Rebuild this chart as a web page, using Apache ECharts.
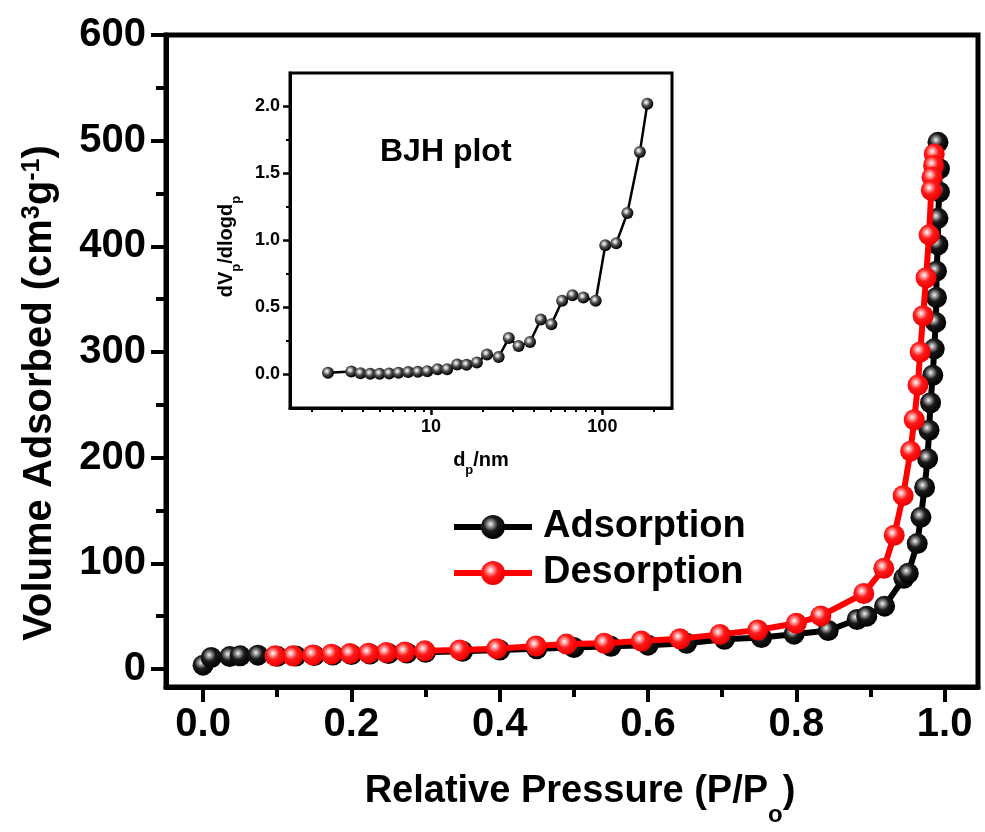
<!DOCTYPE html>
<html>
<head>
<meta charset="utf-8">
<script src="https://cdn.jsdelivr.net/npm/echarts@6.0.0/dist/echarts.min.js"></script>
<style>
  html, body { margin: 0; padding: 0; background: #fff; }
  #main { width: 985px; height: 832px; }
</style>
</head>
<body>
<div id="main"></div>
<script>
// isotherm, adsorption branch (P/Po, cm3/g)
const adsP = [0.0, 0.011, 0.036, 0.05, 0.074, 0.1, 0.125, 0.15, 0.175, 0.2, 0.225, 0.25, 0.275, 0.3,
  0.35, 0.4, 0.45, 0.5, 0.55, 0.6, 0.652, 0.703, 0.753, 0.797, 0.843, 0.882, 0.895, 0.919, 0.945,
  0.951, 0.963, 0.968, 0.973, 0.977, 0.979, 0.981, 0.984, 0.986, 0.988, 0.989, 0.989, 0.991, 0.991,
  0.993, 0.993, 0.991];
const adsV = [3.7, 10.9, 11.8, 12.5, 13.1, 12.0, 12.3, 12.8, 13.3, 13.8, 14.2, 14.7, 15.2, 15.8,
  16.8, 17.9, 19.2, 20.4, 21.5, 22.6, 24.4, 28.1, 29.8, 33.0, 36.5, 46.9, 50.0, 59.5, 85.9,
  90.6, 118.7, 143.7, 171.8, 199, 226, 252, 278, 303, 328, 351.6, 376.5, 401.5, 426.5,
  451.5, 473.4, 498.4];
// desorption branch, measured from high to low pressure
const desP = [0.986, 0.985, 0.983, 0.982, 0.979, 0.975, 0.971, 0.967, 0.964, 0.959, 0.954, 0.944,
  0.932, 0.918, 0.891, 0.833, 0.80, 0.748, 0.697, 0.643, 0.591, 0.541, 0.49, 0.449, 0.396, 0.346,
  0.299, 0.272, 0.247, 0.223, 0.198, 0.173, 0.148, 0.121, 0.097];
const desV = [487.5, 476.5, 465.5, 453.1, 410.9, 370.3, 334.3, 300.0, 268.7, 235.9, 206.2, 164.1,
  126.6, 95.3, 71.5, 50.3, 43.3, 37.0, 32.8, 28.7, 26.5, 24.4, 23.6, 21.8, 19.3, 18.1,
  17.2, 16.2, 15.6, 15.0, 14.6, 14.1, 13.4, 12.5, 12.5];

// BJH pore size distribution (dp in nm, dVp/dlogdp)
const bjhD = [2.50, 3.42, 3.87, 4.41, 5.0, 5.69, 6.45, 7.35, 8.37, 9.5, 10.9, 12.4, 14.2, 16.1,
  18.5, 21.2, 24.8, 28.4, 32.4, 37.8, 43.7, 50.4, 58.2, 66.9, 77.5, 91.4, 104, 120.5, 140, 165.5, 183];
const bjhV = [0.013, 0.022, 0.01, 0.005, 0.005, 0.008, 0.013, 0.018, 0.02, 0.025, 0.04, 0.04, 0.075,
  0.072, 0.09, 0.15, 0.13, 0.272, 0.212, 0.242, 0.41, 0.375, 0.55, 0.592, 0.575, 0.55, 0.965, 0.98,
  1.205, 1.66, 2.02];

// ticks
const xTicks = [0, 0.2, 0.4, 0.6, 0.8, 1.0];
const xMinor = [0.1, 0.3, 0.5, 0.7, 0.9];
const yTicks = [0, 100, 200, 300, 400, 500, 600];
const yMinor = [50, 150, 250, 350, 450, 550];
const inXTicks = [10, 100];
const inXMinor = [2, 3, 4, 5, 6, 7, 8, 9, 20, 30, 40, 50, 60, 70, 80, 90, 200];
const inYTicks = [0, 0.5, 1.0, 1.5, 2.0];
const inYMinor = [0.25, 0.75, 1.25, 1.75];

const FONT = 'Liberation Sans, Arial, Helvetica, sans-serif';
const lg = Math.log10;

function ball(c0, c1, c2, c3) {
  return {
    type: 'radial', x: 0.4, y: 0.38, r: 0.6,
    colorStops: [
      { offset: 0, color: c0 }, { offset: 0.2, color: c1 },
      { offset: 0.5, color: c2 }, { offset: 1, color: c3 }
    ]
  };
}

function richSet(big, small, subPad) {
  return {
    b: { fontSize: big, fontWeight: 'bold', fontFamily: FONT, color: '#000', lineHeight: big + 6, verticalAlign: 'top' },
    sup: { fontSize: small, fontWeight: 'bold', fontFamily: FONT, color: '#000', lineHeight: small, verticalAlign: 'top' },
    sub: { fontSize: small, fontWeight: 'bold', fontFamily: FONT, color: '#000', lineHeight: small, verticalAlign: 'top', padding: [subPad, 0, 0, 0] }
  };
}
const richX = richSet(38, 24, 30);
const richY = richSet(40, 25, 30);
const richS = richSet(20, 13, 14);

function minorAxis(grid, pos, min, max, vals, len, w) {
  return {
    type: 'value', gridIndex: grid, position: pos, min: min, max: max,
    axisLine: { show: false, onZero: false }, splitLine: { show: false }, axisLabel: { show: false },
    axisTick: { show: true, customValues: vals, length: len, lineStyle: { color: '#000', width: w } }
  };
}

const chart = echarts.init(document.getElementById('main'));

const option = {
  animation: false,
  backgroundColor: '#fff',
  grid: [
    { left: 166, top: 35, right: 7, bottom: 140, show: true, borderColor: '#000', borderWidth: 5, containLabel: false },
    { left: 290, top: 73, right: 313, bottom: 424, show: true, borderColor: '#000', borderWidth: 3, containLabel: false }
  ],
  legend: {
    orient: 'vertical', left: 446, top: 500, itemWidth: 78, itemHeight: 30, itemGap: 2,
    data: ['Adsorption', 'Desorption'],
    lineStyle: { width: 6 },
    textStyle: { fontSize: 38, fontWeight: 'bold', fontFamily: FONT, color: '#000', lineHeight: 44, padding: [0, 0, 0, 6] }
  },
  xAxis: [
    {
      type: 'value', gridIndex: 0, position: 'bottom', min: -0.05, max: 1.045,
      name: '{b|Relative Pressure (P/P}{sub|o}{b|)}', nameLocation: 'middle', nameGap: 86,
      nameTextStyle: { rich: richX, padding: [0, 0, 0, 16] },
      axisLine: { show: true, onZero: false, lineStyle: { color: '#000', width: 5 } },
      splitLine: { show: false },
      axisTick: { show: true, customValues: xTicks, length: 15, lineStyle: { color: '#000', width: 4 } },
      axisLabel: {
        customValues: xTicks, margin: 18, color: '#000', fontSize: 40, fontWeight: 'bold', fontFamily: FONT,
        formatter: v => v.toFixed(1)
      }
    },
    minorAxis(0, 'bottom', -0.05, 1.045, xMinor, 10, 4),
    {
      type: 'value', gridIndex: 1, position: 'bottom', min: lg(1.5), max: lg(255),
      name: '{b|d}{sub|p}{b|/nm}', nameLocation: 'middle', nameGap: 42,
      nameTextStyle: { rich: richS },
      axisLine: { show: true, onZero: false, lineStyle: { color: '#000', width: 3 } },
      splitLine: { show: false },
      axisTick: { show: true, customValues: inXTicks.map(lg), length: 7, lineStyle: { color: '#000', width: 2.5 } },
      axisLabel: {
        customValues: inXTicks.map(lg), margin: 10, color: '#000', fontSize: 18, fontWeight: 'bold', fontFamily: FONT,
        formatter: v => String(Math.round(Math.pow(10, v)))
      }
    },
    minorAxis(1, 'bottom', lg(1.5), lg(255), inXMinor.map(lg), 4, 2)
  ],
  yAxis: [
    {
      type: 'value', gridIndex: 0, position: 'left', min: -17, max: 600,
      name: '{b|Volume Adsorbed (cm}{sup|3}{b|g}{sup|-1}{b|)}', nameLocation: 'middle', nameRotate: 90, nameGap: 100,
      nameTextStyle: { rich: richY, padding: [0, 64, 0, 0] },
      axisLine: { show: true, onZero: false, lineStyle: { color: '#000', width: 5 } },
      splitLine: { show: false },
      axisTick: { show: true, customValues: yTicks, length: 15, lineStyle: { color: '#000', width: 4 } },
      axisLabel: {
        customValues: yTicks, margin: 20, color: '#000', fontSize: 40, fontWeight: 'bold', fontFamily: FONT
      }
    },
    minorAxis(0, 'left', -17, 600, yMinor, 10, 4),
    {
      type: 'value', gridIndex: 1, position: 'left', min: -0.25, max: 2.25,
      name: '{b|dV}{sub|p}{b|/dlogd}{sub|p}', nameLocation: 'middle', nameRotate: 90, nameGap: 48,
      nameTextStyle: { rich: richS, padding: [0, 12, 0, 0] },
      axisLine: { show: true, onZero: false, lineStyle: { color: '#000', width: 3 } },
      splitLine: { show: false },
      axisTick: { show: true, customValues: inYTicks, length: 7, lineStyle: { color: '#000', width: 2.5 } },
      axisLabel: {
        customValues: inYTicks, margin: 10, color: '#000', fontSize: 18, fontWeight: 'bold', fontFamily: FONT,
        formatter: v => v.toFixed(1)
      }
    },
    minorAxis(1, 'left', -0.25, 2.25, inYMinor, 4, 2)
  ],
  graphic: [
    {
      type: 'text', left: 380, top: 136,
      style: { text: 'BJH plot', font: 'bold 32px ' + FONT, fill: '#000' }
    }
  ],
  series: [
    {
      name: 'Adsorption', type: 'line', xAxisIndex: 0, yAxisIndex: 0,
      data: adsP.map((p, i) => [p, adsV[i]]),
      symbol: 'circle', symbolSize: 21, showSymbol: true,
      lineStyle: { color: '#000', width: 6 },
      itemStyle: { color: ball('#f4f4f4', '#9a9a9a', '#1a1a1a', '#000') },
      z: 2
    },
    {
      name: 'Desorption', type: 'line', xAxisIndex: 0, yAxisIndex: 0,
      data: desP.map((p, i) => [p, desV[i]]),
      symbol: 'circle', symbolSize: 21, showSymbol: true,
      lineStyle: { color: '#ff0000', width: 6 },
      itemStyle: { color: ball('#ffffff', '#ffa0a0', '#ff1a1a', '#f00000') },
      z: 3
    },
    {
      name: 'BJH', type: 'line', xAxisIndex: 2, yAxisIndex: 2,
      data: bjhD.map((d, i) => [lg(d), bjhV[i]]),
      symbol: 'circle', symbolSize: 12, showSymbol: true,
      lineStyle: { color: '#000', width: 2.5 },
      itemStyle: { color: ball('#ffffff', '#c8c8c8', '#505050', '#000') },
      z: 3
    }
  ]
};

chart.setOption(option);
</script>
</body>
</html>
